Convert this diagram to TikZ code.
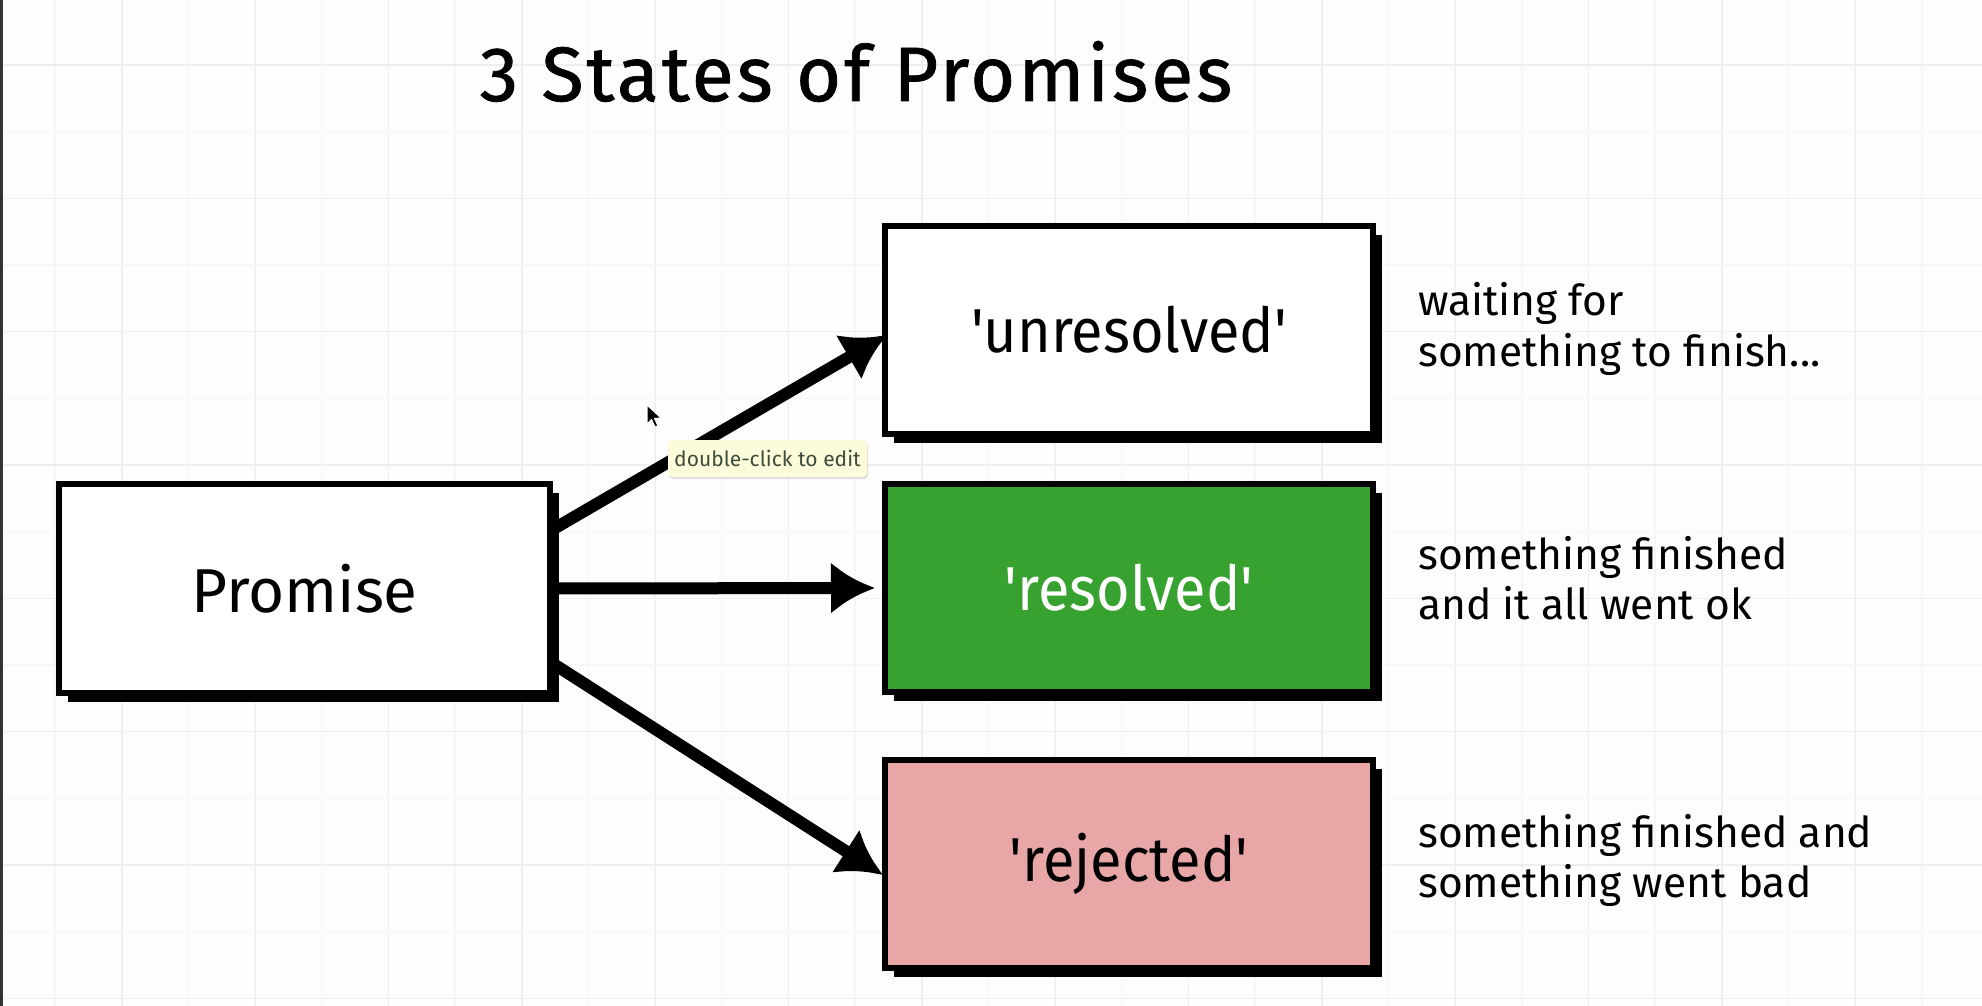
\documentclass[tikz,border=0pt]{standalone}
\usepackage{fontspec}
\setmainfont{Fira Sans}
\usetikzlibrary{arrows.meta,shadows}
\definecolor{bgc}{HTML}{FDFDFD}
\definecolor{gridminor}{HTML}{F6F6F6}
\definecolor{gridmajor}{HTML}{EEEEEE}
\definecolor{okgreen}{HTML}{37A22F}
\definecolor{badpink}{HTML}{E8A6A6}
\definecolor{tipfill}{HTML}{FCFBDA}
\definecolor{tiptext}{HTML}{3E4C3E}
\newcommand{\narrowlabel}[1]{\scalebox{0.93}[1]{#1}}
\tikzset{
  statebox/.style={draw=black, line width=6pt, fill=white, minimum width=488pt, minimum height=208pt,
    inner sep=0pt, drop shadow={shadow xshift=9pt, shadow yshift=-9pt, fill=black, opacity=1},
    font=\fontsize{62}{70}\selectfont},
  flow/.style={line width=12pt, -{Latex[length=44pt,width=52pt]}},
  desc/.style={anchor=base west, inner sep=0pt, font=\fontsize{42.5}{50}\selectfont},
}
\begin{document}
\begin{tikzpicture}[x=1pt,y=-1pt]
\useasboundingbox (0,0) rectangle (1982,1006);
\fill[bgc] (0,0) rectangle (1982,1006);
% grid
\foreach \k in {0,...,29} {
  \draw[gridminor, line width=1.5pt] ({55+66.67*\k},0) -- ({55+66.67*\k},1006);
}
\foreach \k in {0,...,14} {
  \draw[gridmajor, line width=1.5pt] ({122+133.33*\k},0) -- ({122+133.33*\k},1006);
}
\foreach \k in {0,...,15} {
  \draw[gridminor, line width=1.5pt] (0,{65+66.67*\k}) -- (1982,{65+66.67*\k});
}
\foreach \k in {0,...,7} {
  \draw[gridmajor, line width=1.5pt] (0,{65+133.33*\k}) -- (1982,{65+133.33*\k});
}
\fill[black!80] (0,0) rectangle (3,1006);

% title
\node[anchor=base, inner sep=0pt, font=\fontsize{77}{90}\selectfont\addfontfeature{LetterSpace=4,FakeBold=1}] (title) at (856,101) {3 States of Promises};

% boxes
\node[statebox, minimum width=491pt, minimum height=209pt] (promise) at (304.5,588.5) {Promise};
\node[statebox] (unres) at (1129,330) {\narrowlabel{\textquotesingle unresolved\textquotesingle}};
\node[statebox, fill=okgreen, text=white] (res) at (1129,588) {\narrowlabel{\textquotesingle resolved\textquotesingle}};
\node[statebox, fill=badpink] (rej) at (1129,864) {\narrowlabel{\textquotesingle rejected\textquotesingle}};

% arrows
\draw[flow] ([yshift=61pt,xshift=3pt]promise.east) -- ([yshift=-5pt,xshift=5pt]unres.west);
\draw[flow] ([xshift=3pt]promise.east) -- ([xshift=-7pt]res.west);
\draw[flow] ([yshift=-77pt,xshift=3pt]promise.east) -- ([yshift=-11pt,xshift=1pt]rej.west);

% descriptions
\node[desc] (d1a) at (1418,315) {waiting for};
\node[desc] (d1b) at (1418,366) {something to finish...};
\node[desc] (d2a) at (1418,569) {something finished};
\node[desc] (d2b) at (1418,619) {and it all went ok};
\node[desc] (d3a) at (1418,847) {something finished and};
\node[desc] (d3b) at (1418,897) {something went bad};

% tooltip
\node[fill=tipfill, rounded corners=4pt, minimum width=199pt, minimum height=37pt, inner sep=0pt,
  text=tiptext, font=\fontsize{21}{24}\selectfont,
  drop shadow={shadow xshift=1pt, shadow yshift=-2pt, fill=black, opacity=0.12}] (tip) at (767.5,458.5) {double-click to edit};

% mouse cursor
\filldraw[fill=black, draw=white, line width=1pt, line join=round]
  (647,405) -- (647,424) -- (651.5,419.5) -- (655,427) -- (658,425.8) -- (654.5,418.5) -- (661,418) -- cycle;
\end{tikzpicture}
\end{document}
